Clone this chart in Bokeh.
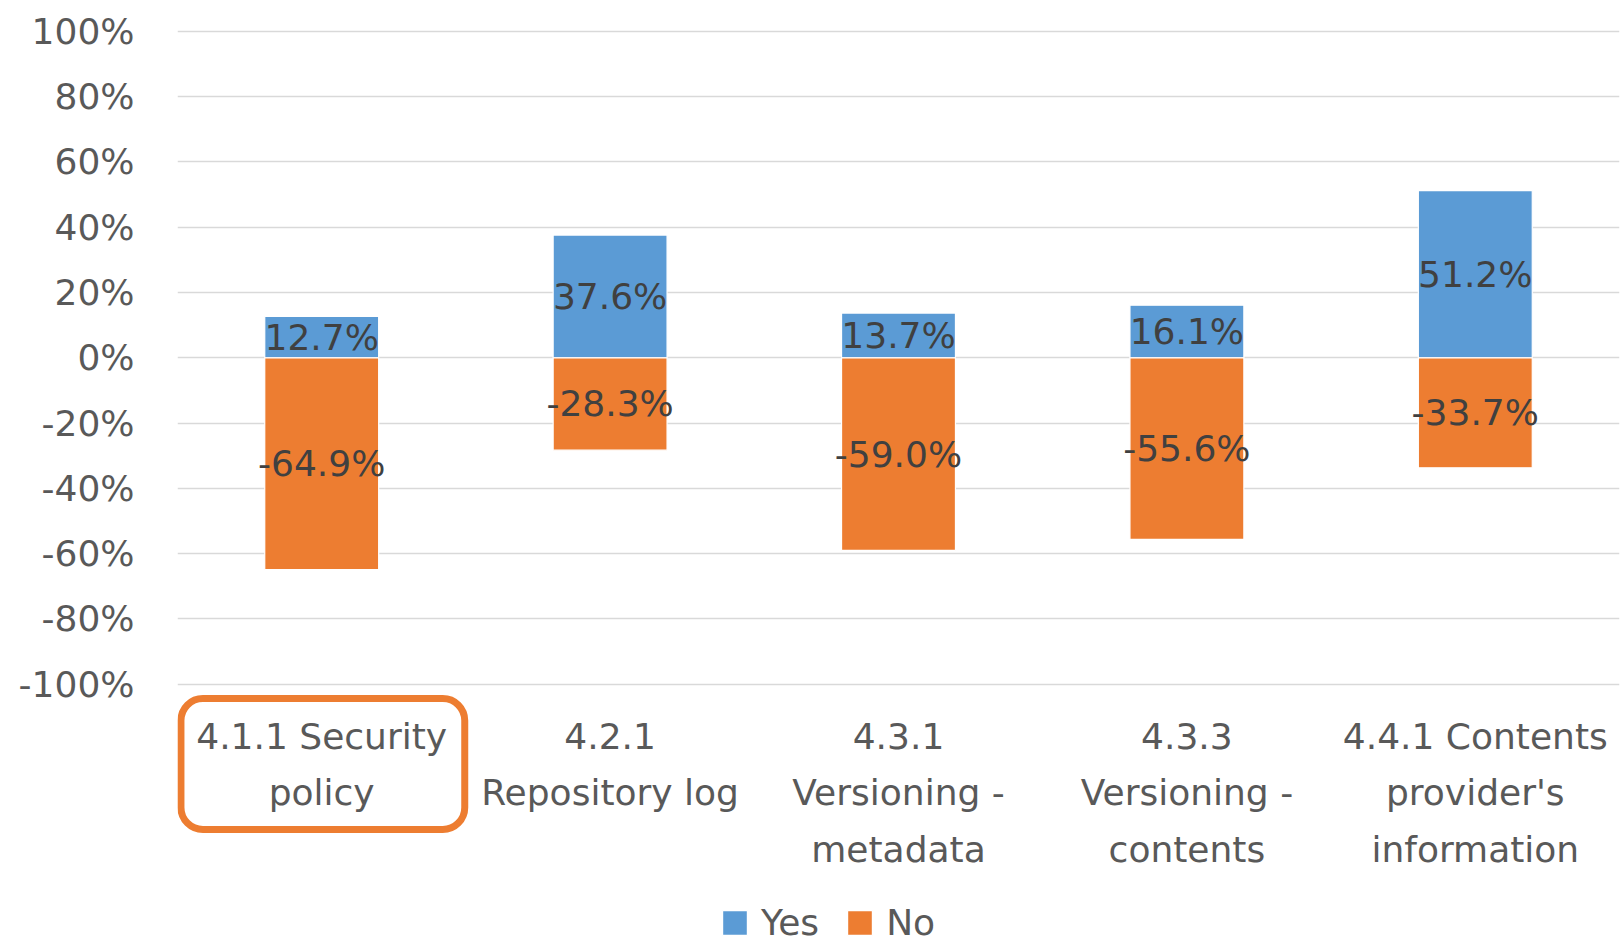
from bokeh.plotting import figure
from bokeh.models import (FactorRange, Range1d, FixedTicker, NumeralTickFormatter,
                          ColumnDataSource, BoxAnnotation, Legend, LegendItem)
from bokeh.core.properties import value
from bokeh.embed import file_html
from bokeh.resources import INLINE

categories = ["4.1.1 Security\npolicy", "4.2.1\nRepository log",
              "4.3.1\nVersioning -\nmetadata", "4.3.3\nVersioning -\ncontents",
              "4.4.1 Contents\nprovider's\ninformation"]
yes = [0.127, 0.376, 0.137, 0.161, 0.512]
no = [-0.649, -0.283, -0.590, -0.556, -0.337]
y_ticks = [-1.0, -0.8, -0.6, -0.4, -0.2, 0.0, 0.2, 0.4, 0.6, 0.8, 1.0]

FONT = "DejaVu Sans"
BLUE = "#5B9BD5"
ORANGE = "#ED7D31"

src = ColumnDataSource(dict(
    cat=categories, yes=yes, no=no,
    yes_mid=[v / 2 for v in yes], no_mid=[v / 2 for v in no],
    yes_lbl=["%.1f%%" % (v * 100) for v in yes],
    no_lbl=["%.1f%%" % (v * 100) for v in no],
))

# the plot frame reaches down to the bottom so the category labels, the
# highlight box and the legend can be drawn inside it
p = figure(x_range=FactorRange(*categories, range_padding=0, factor_padding=0),
           y_range=Range1d(-1.7908, 1.0208),
           width=1620, height=942, output_backend="svg", toolbar_location=None,
           min_border_left=177, min_border_right=1, min_border_top=24,
           min_border_bottom=0)
p.outline_line_color = None

r_yes = p.vbar(x="cat", top="yes", bottom=0, width=0.395, source=src,
               fill_color=BLUE, line_color="white", line_width=1.2)
r_no = p.vbar(x="cat", top=0, bottom="no", width=0.395, source=src,
              fill_color=ORANGE, line_color="white", line_width=1.2)

for col_y, col_t in (("yes_mid", "yes_lbl"), ("no_mid", "no_lbl")):
    p.text(x="cat", y=col_y, text=col_t, source=src, text_align="center",
           text_baseline="middle", text_font=value(FONT), text_font_size="36px",
           text_color="#404040")

# category labels (x axis)
p.text(x="cat", y=-1.0956, text="cat", source=src, text_align="center",
       text_baseline="top", text_font=value(FONT), text_font_size="36px",
       text_color="#595959", text_line_height=1.38)

p.xgrid.grid_line_color = None
p.ygrid.grid_line_color = "#D9D9D9"
p.ygrid.grid_line_width = 1.5
p.ygrid.ticker = FixedTicker(ticks=y_ticks)
p.yaxis.ticker = FixedTicker(ticks=y_ticks)
p.yaxis.formatter = NumeralTickFormatter(format="0%")
p.yaxis.axis_line_color = None
p.yaxis.major_tick_line_color = None
p.yaxis.minor_tick_line_color = None
p.yaxis.major_tick_out = 0
p.yaxis.major_label_standoff = 43
p.yaxis.major_label_text_font = FONT
p.yaxis.major_label_text_font_size = "36px"
p.yaxis.major_label_text_color = "#595959"
p.xaxis.visible = False

box = BoxAnnotation(left=0.012, right=0.996, top=-1.0435, bottom=-1.4447,
                    fill_alpha=0, line_color=ORANGE, line_alpha=1.0,
                    line_width=7, border_radius=22)
p.add_layout(box)

legend = Legend(items=[LegendItem(label="Yes", renderers=[r_yes]),
                       LegendItem(label="No", renderers=[r_no])],
                orientation="horizontal", location=(542, -1),
                glyph_width=31, glyph_height=31, label_standoff=11, spacing=25,
                padding=0, margin=0, border_line_color=None,
                background_fill_alpha=0, label_text_font=FONT,
                label_text_font_size="36px", label_text_color="#595959")
p.add_layout(legend)

open("out.html", "w").write(file_html(p, INLINE))
